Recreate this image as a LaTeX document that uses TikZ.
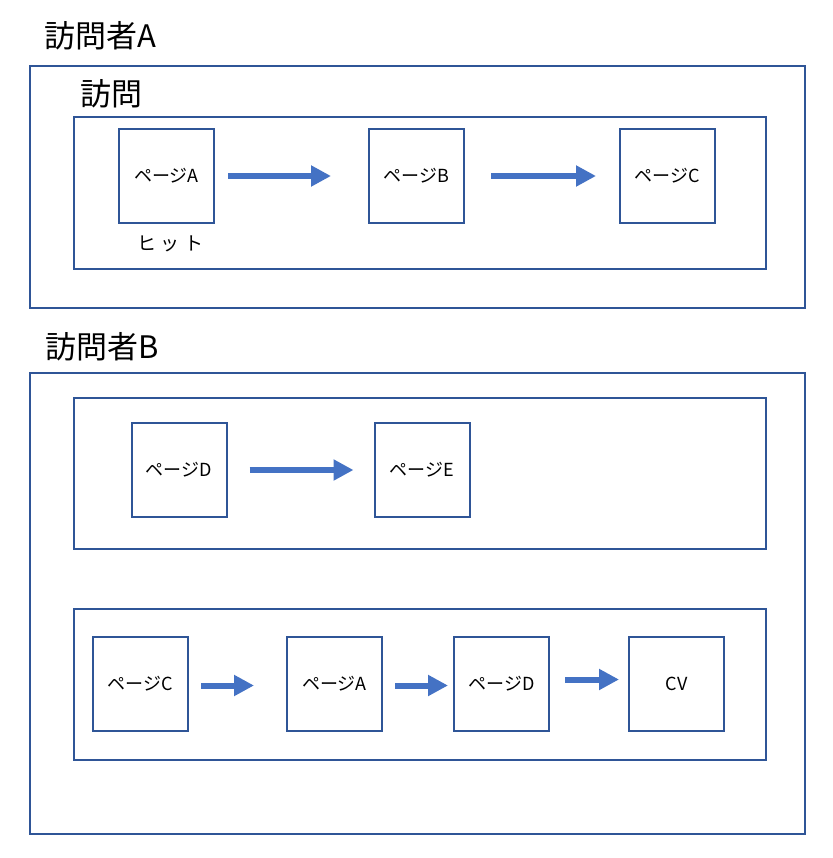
\documentclass[tikz,border=0pt]{standalone}
\usepackage{fontspec}
\setmainfont{Noto Sans CJK JP}
\usetikzlibrary{arrows.meta,positioning}

\definecolor{framecol}{HTML}{2F5597}
\definecolor{arrowcol}{HTML}{4472C4}

\begin{document}
\begin{tikzpicture}[x=1pt, y=-1pt, auto]

% Define styles
\tikzstyle{frame} = [rectangle, draw=framecol, line width=1.6pt, anchor=north west, inner sep=0pt]
\tikzstyle{page} = [rectangle, draw=framecol, line width=2pt, minimum width=95pt, minimum height=94pt, inner sep=0pt, font=\fontsize{18}{20}\selectfont]
\tikzstyle{title} = [anchor=west, inner sep=0pt, font=\fontsize{31}{34}\selectfont]
\tikzstyle{arrow} = [draw=arrowcol, line width=6pt, -{Triangle[length=20pt, width=20pt]}]

\useasboundingbox (0,0) rectangle (832,858);

% Visitor A
\node (titleA) [title] at (44,36) {訪問者A};
\node (outerA) [frame, minimum width=775pt, minimum height=242pt] at (29,65) {};
\node (visitA) [title] at (80,94) {訪問};
\node (rowA) [frame, minimum width=692pt, minimum height=152pt] at (73,116) {};

\node (pageA) [page] at (166.5,176) {ページA};
\node (pageB) [page, right=153pt of pageA] {ページB};
\node (pageC) [page, right=154pt of pageB] {ページC};
\node (hit) [below=12pt of pageA, xshift=4pt, inner sep=0pt, font=\fontsize{19}{21}\selectfont] {ヒ\hspace{5pt}ッ\hspace{5pt}ト};

\draw [arrow, shorten <=13pt, shorten >=37pt] (pageA.east) -- (pageB.west);
\draw [arrow, shorten <=26pt, shorten >=23pt] (pageB.east) -- (pageC.west);

% Visitor B
\node (titleB) [title] at (45,347) {訪問者B};
\node (outerB) [frame, minimum width=775pt, minimum height=461pt] at (29,372) {};
\node (rowB1) [frame, minimum width=692pt, minimum height=151pt] at (73,397) {};
\node (rowB2) [frame, minimum width=692pt, minimum height=151pt] at (73,608) {};

\node (pageD) [page] at (179,470) {ページD};
\node (pageE) [page, right=146pt of pageD] {ページE};
\draw [arrow, shorten <=22pt, shorten >=20pt] (pageD.east) -- (pageE.west);

\node (pageC2) [page] at (140.5,683.5) {ページC};
\node (pageA2) [page, right=97pt of pageC2] {ページA};
\node (pageD2) [page, right=70pt of pageA2] {ページD};
\node (cv) [page, right=78pt of pageD2] {CV};

\draw [arrow, shorten <=12pt, shorten >=32pt] ([yshift=-2pt]pageC2.east) -- ([yshift=-2pt]pageA2.west);
\draw [arrow, shorten <=12pt, shorten >=5pt] ([yshift=-2pt]pageA2.east) -- ([yshift=-2pt]pageD2.west);
\draw [arrow, shorten <=15pt, shorten >=9pt] ([yshift=4pt]pageD2.east) -- ([yshift=4pt]cv.west);

\end{tikzpicture}
\end{document}
